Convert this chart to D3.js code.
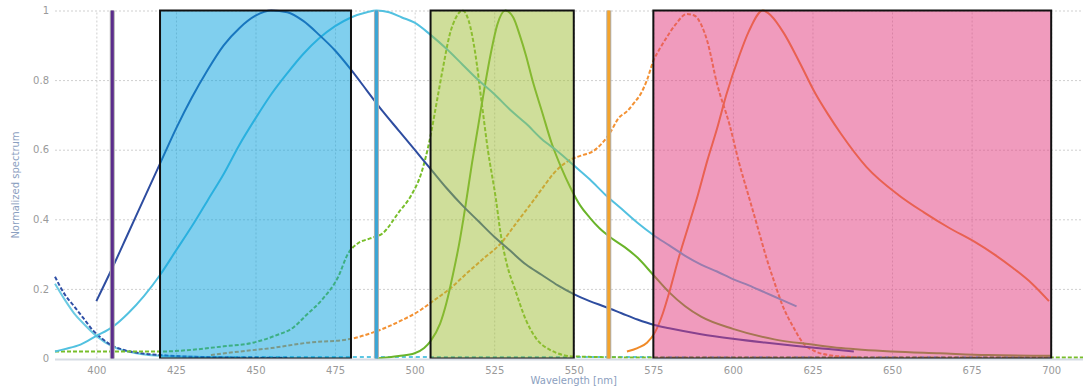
<!DOCTYPE html>
<html lang="en">
<head>
    <meta charset="utf-8">
    <title>Filter spectra</title>
    <script src="https://d3js.org/d3.v7.min.js"></script>
    <style>
        body{
            margin: 0;
            background: #fff;
        }
        .tickT{
            fill: #9a9a9a;
            font-size: 10px;
            font-family: "DejaVu Sans", sans-serif;
        }
        .axisT{
            fill: #8ba0c0;
            font-size: 10px;
            font-family: "DejaVu Sans", sans-serif;
        }
        .grid line{
            stroke: #cfcfcf;
            stroke-dasharray: 2,2;
        }
        .grid path{
            display: none;
        }
        .curve{
            fill: none;
            stroke-width: 2;
        }
    </style>
</head>
<body>
    <div id="container"></div>
    <script type="text/javascript">
        // axis ticks
        var xTicks = [400, 425, 450, 475, 500, 525, 550, 575, 600, 625, 650, 675, 700];
        var yTicks = [0, 0.2, 0.4, 0.6, 0.8, 1];

        // filter bands [from, to] in nm
        var bandBlue  = [420, 480];
        var bandGreen = [505, 550];
        var bandPink  = [575, 700];

        // laser lines in nm
        var lasers = [405, 488, 561];

        // spectra, [wavelength, value]
        var blueDashEx = [[387,0.235],[390,0.185],[393,0.15],[396,0.115],[399,0.08],[401,0.063],[405,0.037],[408,0.026],
            [414,0.015],[420,0.01],[430,0.005],[445,0.003],[460,0.002]];
        var cyanFall = [[387,0.215],[390,0.17],[393,0.13],[396,0.1],[400,0.065],[405,0.035],[410,0.02],[420,0.008],[440,0.004]];
        var cyanTail = [[430,0.004],[520,0.004],[600,0.004],[700,0.004]];
        var blueEm = [[400,0.165],[405,0.26],[410,0.36],[415,0.46],[420,0.56],[425,0.66],[430,0.75],[435,0.83],[440,0.9],
            [445,0.95],[450,0.985],[455,1.0],[460,0.995],[465,0.97],[470,0.93],[475,0.885],[480,0.83],[485,0.77],[490,0.71],
            [495,0.655],[500,0.6],[505,0.545],[510,0.49],[515,0.44],[520,0.395],[525,0.35],[530,0.31],[535,0.27],[540,0.24],
            [545,0.21],[550,0.185],[555,0.165],[560,0.148],[565,0.13],[570,0.112],[575,0.097],[580,0.087],[590,0.07],
            [600,0.057],[610,0.046],[620,0.036],[630,0.027],[638,0.02]];
        var cyanEm = [[387,0.02],[390,0.027],[395,0.04],[400,0.065],[405,0.09],[410,0.13],[415,0.18],[420,0.24],[425,0.31],
            [430,0.38],[435,0.455],[440,0.53],[445,0.615],[450,0.69],[455,0.76],[460,0.82],[465,0.875],[470,0.92],[475,0.955],
            [480,0.98],[485,0.995],[488,1.0],[492,0.995],[496,0.98],[500,0.965],[505,0.93],[510,0.89],[515,0.845],[520,0.8],
            [525,0.76],[530,0.715],[535,0.675],[540,0.63],[545,0.595],[550,0.555],[555,0.515],[560,0.47],[565,0.43],
            [570,0.39],[575,0.355],[580,0.325],[585,0.295],[590,0.27],[595,0.25],[600,0.228],[605,0.21],[610,0.19],
            [615,0.17],[620,0.15]];
        var greenDashEx = [[387,0.02],[400,0.02],[410,0.02],[420,0.02],[430,0.025],[440,0.035],[449,0.045],[456,0.065],
            [462,0.09],[466,0.125],[471,0.17],[476,0.235],[479,0.3],[482,0.33],[486,0.345],[490,0.36],[495,0.42],[499,0.47],
            [502,0.53],[505,0.64],[507,0.74],[509,0.84],[511,0.93],[513,0.98],[515,1.0],[517,0.97],[519,0.88],[521,0.74],
            [523,0.6],[525.5,0.46],[527,0.36],[529,0.27],[531.5,0.2],[535,0.11],[538,0.06],[542.5,0.025],[550,0.006],
            [570,0.003],[710,0.003]];
        var greenEm = [[488,0.0],[495,0.007],[500,0.015],[503,0.03],[505,0.05],[508,0.1],[510,0.16],[512,0.24],[514,0.33],
            [516,0.44],[518,0.56],[520,0.67],[522,0.78],[524,0.88],[526,0.96],[528.5,1.0],[531,0.98],[533,0.93],[535,0.87],
            [537,0.8],[540,0.71],[543,0.62],[546,0.55],[549,0.49],[552,0.44],[555,0.405],[558,0.375],[562,0.345],[566,0.32],
            [570,0.29],[575,0.24],[580,0.19],[585,0.15],[590,0.12],[600,0.085],[613,0.055],[625,0.04],[634,0.03],[650,0.02],
            [665,0.015],[680,0.01],[700,0.008]];
        var orangeDashEx = [[436,0.01],[445,0.02],[455,0.03],[466,0.045],[479,0.055],[487,0.075],[496,0.11],[502,0.14],
            [505,0.16],[511,0.2],[517,0.25],[522,0.29],[527,0.33],[532,0.39],[537,0.45],[541,0.5],[543.5,0.53],[548.7,0.57],
            [553,0.585],[556,0.595],[559,0.62],[561.5,0.65],[564,0.69],[566.7,0.71],[569,0.735],[571,0.76],[573,0.8],
            [575,0.855],[577,0.89],[579,0.92],[582,0.96],[585.5,0.99],[588,0.985],[590,0.96],[592,0.91],
            [595,0.79],[599,0.67],[602,0.56],[605,0.465],[608,0.37],[610.5,0.29],[613,0.22],[615.7,0.15],[619,0.09],
            [622,0.045],[626,0.02],[630,0.01],[640,0.003]];
        var orangeEm = [[566.7,0.02],[570,0.03],[573,0.045],[575.5,0.075],[578,0.13],[580,0.19],[583,0.29],[586,0.38],
            [589,0.47],[592,0.57],[595,0.66],[598,0.76],[602,0.87],[605,0.94],[609.4,1.0],[612,0.985],[616,0.935],
            [621,0.85],[626,0.76],[630,0.7],[634,0.645],[642,0.55],[652,0.47],[660,0.42],[668,0.375],[676,0.335],
            [682,0.3],[688,0.26],[694,0.215],[699.3,0.165]];

        var width = 1083, height = 389;
        var plot = {left: 55, right: 1083, top: 10.5, bottom: 358.5};

        var svg = d3.select('#container')
                    .append('svg')
                    .attr('width', width)
                    .attr('height', height);

        var xScale = d3.scaleLinear().domain([387, 710]).range([plot.left, plot.right]);
        var yScale = d3.scaleLinear().domain([0, 1]).range([plot.bottom, plot.top]);

        // grid
        svg.append('g')
           .attr('class', 'grid')
           .attr('transform', 'translate(0,' + plot.bottom + ')')
           .call(d3.axisBottom(xScale).tickValues(xTicks).tickSize(-(plot.bottom - plot.top)).tickFormat(''));
        svg.append('g')
           .attr('class', 'grid')
           .attr('transform', 'translate(' + plot.left + ',0)')
           .call(d3.axisLeft(yScale).tickValues(yTicks.slice(1)).tickSize(-(plot.right - plot.left)).tickFormat(''));

        var line = d3.line().x(d => xScale(d[0])).y(d => yScale(d[1])).curve(d3.curveMonotoneX);

        var curves = [
            {d: cyanTail, color: '#5cc6e2', dash: '4,3', w: 1.6},
            {d: cyanFall, color: '#6ccbe3', dash: null, w: 2},
            {d: blueDashEx, color: '#2f4fa6', dash: '4,2', w: 2},
            {d: orangeDashEx, color: '#f39234', dash: '4,2', w: 2},
            {d: greenDashEx, color: '#78be2a', dash: '4,2', w: 2},
            {d: greenEm, color: '#6ab42a', dash: null, w: 2},
            {d: orangeEm, color: '#f08a28', dash: null, w: 2},
            {d: cyanEm, color: '#52c1e0', dash: null, w: 2},
            {d: blueEm, color: '#2e4da0', dash: null, w: 2}
        ];
        svg.selectAll('.curve')
           .data(curves)
           .enter()
           .append('path')
           .attr('class', 'curve')
           .attr('stroke', d => d.color)
           .attr('stroke-width', d => d.w)
           .attr('stroke-dasharray', d => d.dash)
           .attr('d', d => line(d.d));

        // filter bands, semi transparent on top of the spectra
        var bands = [
            {b: bandBlue, color: '#01a0de'},
            {b: bandGreen, color: '#9fbd35'},
            {b: bandPink, color: '#e1377b'}
        ];
        svg.selectAll('.band')
           .data(bands)
           .enter()
           .append('rect')
           .attr('class', 'band')
           .attr('x', d => xScale(d.b[0]))
           .attr('y', yScale(1))
           .attr('width', d => xScale(d.b[1]) - xScale(d.b[0]))
           .attr('height', yScale(0) - yScale(1))
           .attr('fill', d => d.color)
           .attr('fill-opacity', 0.5)
           .attr('stroke', '#111')
           .attr('stroke-width', 2);

        // baseline
        svg.append('line')
           .attr('x1', plot.left)
           .attr('x2', plot.right)
           .attr('y1', yScale(0) + 1)
           .attr('y2', yScale(0) + 1)
           .attr('stroke', '#d6dce4')
           .attr('stroke-width', 2);

        // lasers
        var laserColor = ['#5b2c8c', '#3aa6d6', '#f5a42a'];
        svg.selectAll('.laserS')
           .data(lasers)
           .enter()
           .append('line')
           .attr('x1', d => xScale(d))
           .attr('x2', d => xScale(d))
           .attr('y1', yScale(1))
           .attr('y2', yScale(0))
           .attr('stroke', '#b0b0b0')
           .attr('stroke-width', 5);
        svg.selectAll('.laser')
           .data(lasers)
           .enter()
           .append('line')
           .attr('x1', d => xScale(d))
           .attr('x2', d => xScale(d))
           .attr('y1', yScale(1))
           .attr('y2', yScale(0))
           .attr('stroke', (d, i) => laserColor[i])
           .attr('stroke-width', 3);

        // axes
        var xAxis = svg.append('g')
           .attr('transform', 'translate(0,' + plot.bottom + ')')
           .call(d3.axisBottom(xScale).tickValues(xTicks).tickSize(0).tickPadding(8));
        xAxis.select('.domain').remove();
        xAxis.selectAll('text').attr('class', 'tickT');

        var yAxis = svg.append('g')
           .attr('transform', 'translate(' + (plot.left - 6) + ',0)')
           .call(d3.axisLeft(yScale).tickValues(yTicks).tickSize(0).tickPadding(0).tickFormat(d3.format('')));
        yAxis.select('.domain').remove();
        yAxis.selectAll('text').attr('class', 'tickT');

        svg.append('text')
           .text('Wavelength [nm]')
           .attr('class', 'axisT')
           .attr('text-anchor', 'middle')
           .attr('x', xScale(550))
           .attr('y', 384);
        svg.append('text')
           .text('Normalized spectrum')
           .attr('class', 'axisT')
           .attr('text-anchor', 'middle')
           .attr('transform', 'translate(19,185) rotate(-90)');
    </script>
</body>
</html>
